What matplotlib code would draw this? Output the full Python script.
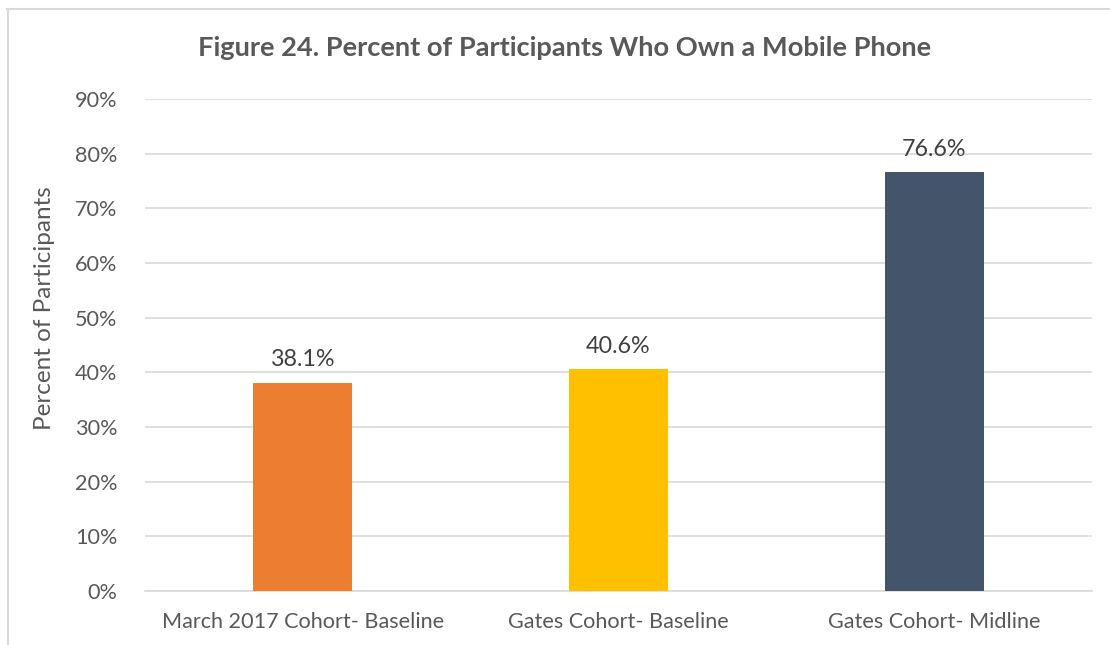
import matplotlib
matplotlib.use("Agg")
import matplotlib.pyplot as plt
from matplotlib.lines import Line2D
from matplotlib.ticker import PercentFormatter

categories = ["March 2017 Cohort- Baseline", "Gates Cohort- Baseline", "Gates Cohort- Midline"]
values = [38.1, 40.6, 76.6]
colors = ["#ED7D31", "#FFC000", "#44546A"]
yticks = [0, 10, 20, 30, 40, 50, 60, 70, 80, 90]

text_color = "#595959"
grid_color = "#D9D9D9"
plt.rcParams["font.family"] = ["Lato", "DejaVu Sans"]

W, H = 1110, 645
fig = plt.figure(figsize=(W / 100, H / 100), dpi=100)
ax = fig.add_axes([145 / W, 1 - 591 / H, (1092 - 145) / W, (591 - 99) / H])

x = range(len(categories))
bars = ax.bar(x, values, width=0.314, color=colors, zorder=3)
for b, v in zip(bars, values):
    ax.annotate(f"{v:.1f}%", (b.get_x() + b.get_width() / 2, v),
                xytext=(0, 9), textcoords="offset points",
                ha="center", va="bottom", fontsize=16.8, color="#404040")

ax.set_xlim(-0.5, len(categories) - 0.5)
ax.set_ylim(0, 90)
ax.set_yticks(yticks)
ax.yaxis.set_major_formatter(PercentFormatter(decimals=0))
ax.set_xticks(list(x))
ax.set_xticklabels(categories)
ax.tick_params(axis="both", length=0, labelsize=15.6, colors=text_color)
ax.tick_params(axis="y", pad=20)
ax.tick_params(axis="x", pad=15)
ax.grid(axis="y", color=grid_color, linewidth=1.2, zorder=0)
for s in ["top", "right", "left"]:
    ax.spines[s].set_visible(False)
ax.spines["bottom"].set_color(grid_color)
ax.spines["bottom"].set_linewidth(1.2)

ax.set_ylabel("Percent of Participants", fontsize=17.5, color=text_color)
ax.yaxis.set_label_coords(-0.095, 0.575)

fig.text(565 / W, 1 - 48 / H, "Figure 24. Percent of Participants Who Own a Mobile Phone",
         ha="center", va="center", fontsize=19.6, fontweight="bold", color=text_color)

# chart frame
fig.add_artist(Line2D([7.5 / W, 7.5 / W], [0, 1 - 9 / H], transform=fig.transFigure,
                      color=grid_color, linewidth=1.5))
fig.add_artist(Line2D([7 / W, 1], [1 - 9 / H, 1 - 9 / H], transform=fig.transFigure,
                      color=grid_color, linewidth=1.5))

fig.savefig("out.png", dpi=100, facecolor="white")
